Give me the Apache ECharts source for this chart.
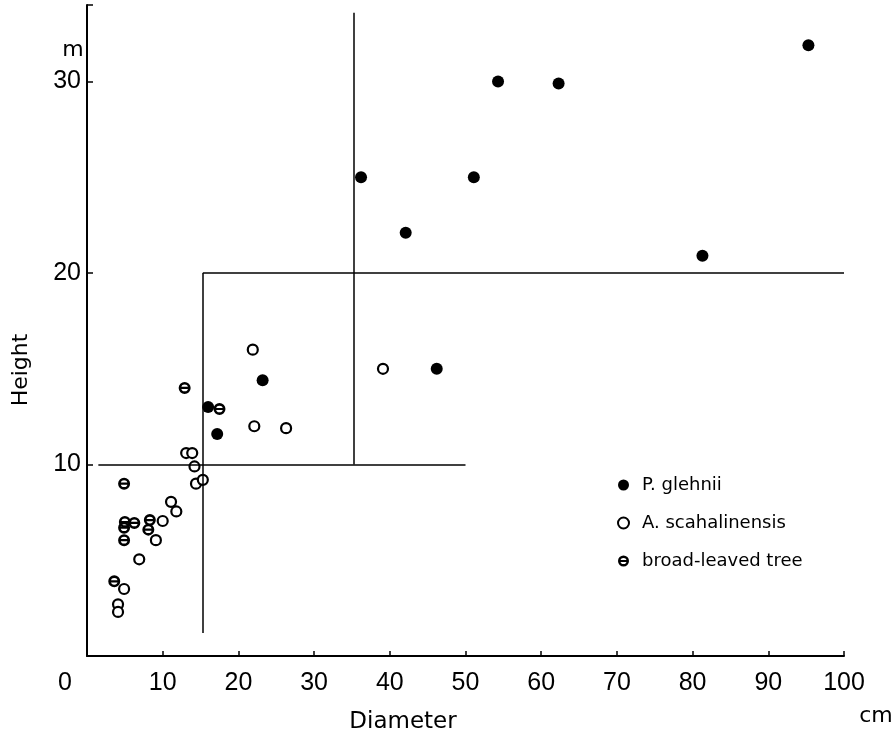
<html lang="en">
<head>
    <meta charset="UTF-8">
    <title>Diameter - Height</title>
    <script type="text/javascript" src="https://cdn.jsdelivr.net/npm/echarts@6/dist/echarts.min.js"></script>
</head>
<style>
    html, body { margin: 0; padding: 0; background: #fff; }
    #container { width: 896px; height: 739px; }
</style>
<body>
<div id="container"></div>
<script>

    // axis ticks
    var xTicks = [0, 10, 20, 30, 40, 50, 60, 70, 80, 90, 100];
    var yTicks = [0, 10, 20, 30];

    // [diameter cm, height m]
    var pGlehnii = [
        [36.2, 25], [42.1, 22.1], [51.1, 25], [54.3, 30], [62.3, 29.9],
        [81.3, 20.9], [95.3, 31.9], [46.2, 15], [23.2, 14.4], [16.0, 13.0], [17.2, 11.6]
    ];
    var aSachalinensis = [
        [39.1, 15], [21.9, 16], [22.1, 12], [26.3, 11.9], [13.1, 10.6], [13.9, 10.6],
        [14.2, 9.9], [14.4, 9.0], [15.3, 9.2], [11.1, 8.05], [11.8, 7.55], [10.0, 7.05],
        [9.1, 6.05], [6.9, 5.05], [4.9, 3.5], [4.1, 2.7], [4.1, 2.3]
    ];
    var broadLeaved = [
        [12.9, 14.0], [17.5, 12.9], [4.9, 9.0], [5.0, 7.0], [4.9, 6.7], [6.25, 6.95],
        [8.3, 7.1], [8.1, 6.6], [4.9, 6.05], [3.6, 3.9]
    ];

    // dividing lines, [[x1, y1], [x2, y2]]
    var dividers = [
        [[1.5, 10], [50, 10]],
        [[15.3, 1.2], [15.3, 20]],
        [[15.3, 20], [100, 20]],
        [[35.3, 10], [35.3, 33.6]]
    ];

    // thick ring with a bar across it
    var barredCircle = 'path://M10 0 A10 10 0 1 1 10 20 A10 10 0 1 1 10 0 Z' +
        'M10 4.4 A5.6 5.6 0 1 0 10 15.6 A5.6 5.6 0 1 0 10 4.4 Z' +
        'M4 8.2 L16 8.2 L16 11.8 L4 11.8 Z';

    var chart = echarts.init(document.getElementById('container'));

    var sans = 'DejaVu Sans';
    var numFont = 'Liberation Sans';

    var option = {
        backgroundColor: '#fff',
        animation: false,
        grid: { left: 87, right: 52, top: 5, bottom: 83 },
        xAxis: {
            type: 'value',
            min: xTicks[0],
            max: xTicks[xTicks.length - 1],
            interval: 10,
            splitLine: { show: false },
            axisLine: { lineStyle: { color: '#000', width: 2 } },
            axisTick: { inside: true, length: 5, lineStyle: { color: '#000', width: 1.5 } },
            axisLabel: {
                color: '#000', fontFamily: numFont, fontSize: 25, margin: 15,
                formatter: function (v) { return (v !== 0 && xTicks.indexOf(v) >= 0) ? v : ''; }
            }
        },
        yAxis: {
            type: 'value',
            min: yTicks[0],
            max: 34,
            interval: 10,
            splitLine: { show: false },
            axisLine: { onZero: false, lineStyle: { color: '#000', width: 2 } },
            axisTick: { inside: true, length: 6, lineStyle: { color: '#000', width: 1.5 } },
            axisLabel: {
                color: '#000', fontFamily: numFont, fontSize: 25, margin: 6,
                formatter: function (v) { return (v !== 0 && yTicks.indexOf(v) >= 0) ? v : ''; }
            }
        },
        legend: {
            orient: 'vertical',
            left: 612,
            top: 471,
            itemWidth: 11,
            itemHeight: 11,
            itemGap: 20,
            textStyle: { color: '#000', fontFamily: sans, fontSize: 18, lineHeight: 18, padding: [0, 0, 0, 8] },
            data: ['P. glehnii', 'A. scahalinensis', 'broad-leaved tree']
        },
        graphic: [
            { type: 'text', x: 65, y: 683, style: { text: '0', font: '25px "Liberation Sans"', fill: '#000', textAlign: 'center', textVerticalAlign: 'middle' } },
            { type: 'text', x: 73, y: 50, style: { text: 'm', font: '22px "DejaVu Sans"', fill: '#000', textAlign: 'center', textVerticalAlign: 'middle' } },
            { type: 'text', x: 876, y: 716, style: { text: 'cm', font: '22px "DejaVu Sans"', fill: '#000', textAlign: 'center', textVerticalAlign: 'middle' } },
            { type: 'text', x: 403, y: 722, style: { text: 'Diameter', font: '23px "DejaVu Sans"', fill: '#000', textAlign: 'center', textVerticalAlign: 'middle' } },
            { type: 'text', x: 21, y: 370, rotation: Math.PI / 2, style: { text: 'Height', font: '22px "DejaVu Sans"', fill: '#000', textAlign: 'center', textVerticalAlign: 'middle' } }
        ],
        series: [
            {
                name: 'P. glehnii',
                type: 'scatter',
                symbol: 'circle',
                symbolSize: 12,
                itemStyle: { color: '#000', opacity: 1 },
                data: pGlehnii,
                markLine: {
                    silent: true,
                    symbol: 'none',
                    label: { show: false },
                    lineStyle: { color: '#000', width: 1.5, type: 'solid' },
                    data: dividers.map(function (d) {
                        return [{ coord: d[0] }, { coord: d[1] }];
                    })
                }
            },
            {
                name: 'A. scahalinensis',
                type: 'scatter',
                symbol: 'circle',
                symbolSize: 10,
                itemStyle: { color: '#fff', borderColor: '#000', borderWidth: 2.2, opacity: 1 },
                data: aSachalinensis
            },
            {
                name: 'broad-leaved tree',
                type: 'scatter',
                symbol: barredCircle,
                symbolSize: 12,
                itemStyle: { color: '#000', opacity: 1 },
                data: broadLeaved
            }
        ]
    };

    chart.setOption(option);
</script>
</body>
</html>
